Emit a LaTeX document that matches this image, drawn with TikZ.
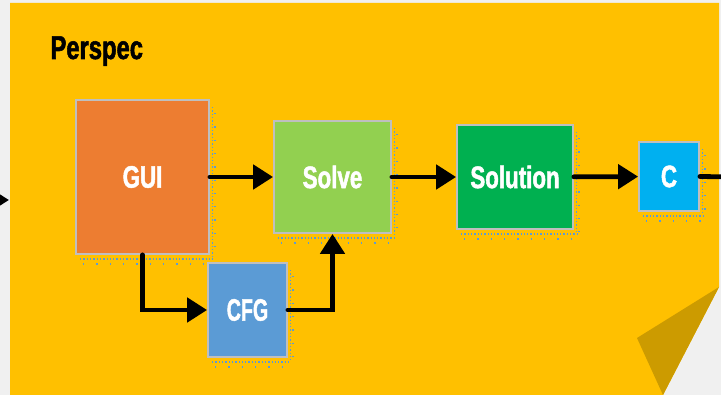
\documentclass[tikz,border=0pt]{standalone}
\usepackage{fontspec}
\setmainfont{Liberation Sans}
\newfontfamily\boxfont[FakeStretch=0.72,BoldFeatures={FakeBold=1.6}]{Liberation Sans}
\usetikzlibrary{arrows.meta}
\definecolor{paper}{HTML}{F0F0F0}
\definecolor{sheet}{HTML}{FFC000}
\definecolor{sheetfold}{HTML}{CC9B00}
\definecolor{boxedge}{HTML}{BFBFBF}
\definecolor{handle}{HTML}{5B9BD5}
\definecolor{cGUI}{HTML}{ED7D31}
\definecolor{cSolve}{HTML}{92D050}
\definecolor{cSolution}{HTML}{00B050}
\definecolor{cC}{HTML}{00B0F0}
\definecolor{cCFG}{HTML}{5B9BD5}
\begin{document}
\begin{tikzpicture}[x=1pt,y=-1pt,
  blk/.style={draw=boxedge, line width=1.8pt, inner sep=0pt, text=white,
    font=\boxfont\bfseries\fontsize{31}{31}\selectfont},
  conn/.style={line width=4.8pt, line cap=round,
    -{Triangle[length=20pt,width=24pt]}},
  wire/.style={line width=4.8pt, line cap=round},
  handles/.style={draw=handle, line width=1.3pt, dash pattern=on 1.3pt off 2pt},
  sparse/.style={draw=handle, line width=1.3pt, dash pattern=on 1.3pt off 12pt}]
\useasboundingbox (0,0) rectangle (721,395);
\clip (0,0) rectangle (721,395);
% page and sticky sheet with curled corner
\fill[paper] (0,0) rectangle (721,395);
\fill[sheet] (10,3) -- (719,3) -- (719,287) -- (663,395) -- (10,395) -- cycle;
\fill[sheetfold] (719,287) -- (637,338) -- (663,395) -- cycle;

\node[anchor=base west, font=\boxfont\bfseries\fontsize{33}{33}\selectfont]
  (title) at (47,59) {Perspec};

% blocks
\node[blk, fill=cGUI, minimum width=133, minimum height=154] (GUI) at (142.5,177) {GUI};
\node[blk, fill=cSolve, minimum width=117, minimum height=112] (Solve) at (332.5,177) {Solve};
\node[blk, fill=cSolution, minimum width=116, minimum height=104] (Solution) at (515,177) {Solution};
\node[blk, fill=cC, minimum width=60, minimum height=69] (C) at (669,176.5) {C};
\node[blk, fill=cCFG, minimum width=79, minimum height=94] (CFG) at (247.5,310) {\scalebox{0.88}[1]{CFG}};

% selection marks along right and bottom edges
\foreach \b in {GUI,Solve,Solution,C,CFG}{
  \draw[handles] ([xshift=2.5pt,yshift=-8pt]\b.north east) -- ([xshift=2.5pt,yshift=-3pt]\b.south east);
  \draw[handles] ([xshift=5pt,yshift=-4pt]\b.south west) -- ([xshift=3pt,yshift=-4pt]\b.south east);
  \draw[sparse] ([xshift=8pt,yshift=-9pt]\b.south west) -- ([xshift=3pt,yshift=-9pt]\b.south east);
  \draw[sparse] ([xshift=5pt,yshift=-14pt]\b.north east) -- ([xshift=5pt,yshift=-3pt]\b.south east);
}

% connectors
\coordinate (inL) at (-30,200);
\coordinate (inR) at (9,200);
\coordinate (outR) at (735,177);
\draw[conn] (inL) -- (inR);
\draw[conn] (GUI) -- (Solve);
\draw[conn] (Solve) -- (Solution);
\draw[conn] (Solution) -- (C);
\draw[wire] (C.east) -- (outR);
\draw[conn] (GUI.south) |- (CFG.west);
\draw[conn] (CFG.east) -| (Solve.south);
\end{tikzpicture}
\end{document}
